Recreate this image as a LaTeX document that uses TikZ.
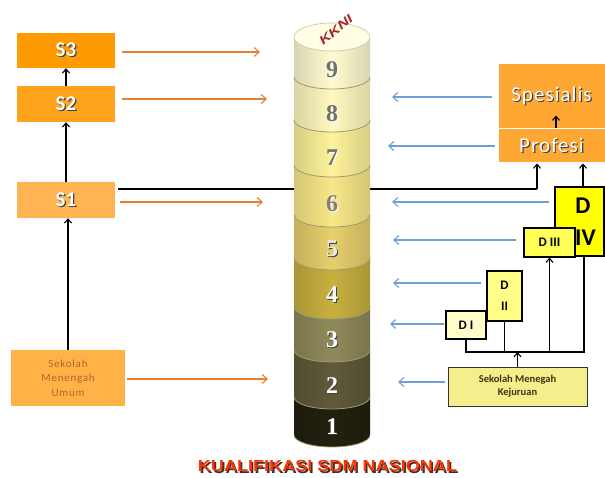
\documentclass[tikz,border=0pt]{standalone}
\usepackage{fontspec}
\setmainfont{Carlito}
\newfontfamily\numfont{Liberation Serif}
\newfontfamily\titlefont{Liberation Sans}
\usetikzlibrary{arrows.meta,calc}
\definecolor{cS3}{HTML}{FF9A00}
\definecolor{cS2}{HTML}{FFA31A}
\definecolor{cS1}{HTML}{FFB454}
\definecolor{cSMU}{HTML}{FFB347}
\definecolor{cSP}{HTML}{FFA733}
\definecolor{smutext}{HTML}{B0652A}
\definecolor{orangearr}{HTML}{ED7D31}
\definecolor{bluearr}{HTML}{6F9FD8}
\definecolor{cD4}{HTML}{FFFF00}
\definecolor{cD3}{HTML}{FFFF55}
\definecolor{cD2}{HTML}{FFFF88}
\definecolor{cD1}{HTML}{FFFFCC}
\definecolor{cSMK}{HTML}{F4EE8C}
\definecolor{smktext}{HTML}{3C3410}
\definecolor{shd}{HTML}{404040}
\definecolor{ctop}{HTML}{FFFDE4}
\definecolor{c9}{HTML}{FFFBD0}
\definecolor{c8}{HTML}{FFF9C0}
\definecolor{c7}{HTML}{FEF29A}
\definecolor{c6}{HTML}{F9E888}
\definecolor{c5}{HTML}{E8CF6C}
\definecolor{c4}{HTML}{C8B040}
\definecolor{c3}{HTML}{8F8A5A}
\definecolor{c2}{HTML}{5F5A3A}
\definecolor{c1}{HTML}{22200F}
\definecolor{segline}{HTML}{A09870}
\definecolor{kkni}{HTML}{A8262C}
\definecolor{titlered}{HTML}{FF3300}
\definecolor{numgray}{HTML}{707070}
\newcommand\shadowed[2]{\rlap{\kern1.2pt\raisebox{-1.2pt}{\textcolor{#2}{#1}}}#1}
\begin{document}
\begin{tikzpicture}[x=1pt,y=-1pt,
  sbox/.style={inner sep=0pt, text=white, font=\bfseries\fontsize{21}{21}\selectfont},
  dbox/.style={draw=black, line width=1.2pt, inner sep=0pt, font=\bfseries\fontsize{13}{21}\selectfont, align=center},
  orarrow/.style={draw=orangearr, line width=1.1pt, -{Straight Barb[length=5pt,width=9pt]}},
  blarrow/.style={draw=bluearr, line width=1.1pt, -{Straight Barb[length=5pt,width=9pt]}},
  blkarrow/.style={draw=black, line width=1.1pt, -{Straight Barb[length=4pt,width=7pt]}},
  blkline/.style={draw=black, line width=1.1pt},
  numtxt/.style={font=\numfont\bfseries\fontsize{24}{24}\selectfont}
]
\useasboundingbox (0,0) rectangle (605,478);
\fill[white] (0,0) rectangle (605,478);

% ---------- left boxes ----------
\node[sbox, fill=cS3, minimum width=98pt, minimum height=35pt] (S3) at (66,50.5) {\shadowed{S3}{shd}};
\node[sbox, fill=cS2, minimum width=98pt, minimum height=36pt] (S2) at (66,104) {\shadowed{S2}{shd}};
\node[sbox, fill=cS1, minimum width=98pt, minimum height=36pt] (S1) at (66,200) {\shadowed{S1}{shd}};
\node[inner sep=0pt, fill=cSMU, minimum width=114pt, minimum height=56pt, align=center, text=smutext,
  font=\addfontfeatures{LetterSpace=7}\fontsize{11}{14.5}\selectfont] (SMU) at (68,378) {Sekolah\\Menengah\\Umum};

\draw[blkarrow] (S2.north) -- (S3.south);
\draw[blkarrow] (S1.north) -- (S2.south);
\draw[blkarrow] (SMU.north) -- (SMU.north |- S1.south);

% ---------- right boxes ----------
\node[inner sep=0pt, fill=cSP, draw=white, line width=1pt, minimum width=107pt, minimum height=65pt, text=white,
  font=\addfontfeatures{LetterSpace=5}\fontsize{21}{21}\selectfont] (Spec) at (551.5,96.5) {\shadowed{Spesialis}{shd}};
\node[inner sep=0pt, fill=cSP, draw=white, line width=1pt, minimum width=107pt, minimum height=34pt, text=white,
  font=\addfontfeatures{LetterSpace=5}\fontsize{21}{21}\selectfont] (Prof) at (551.5,146) {\shadowed{Profesi}{shd}};
\draw[blkarrow] ([xshift=4.5pt]Prof.north) -- ++(0,-13);

\node[dbox, fill=cD4, minimum width=49pt, minimum height=69pt, font=\bfseries\fontsize{24}{32}\selectfont] (DIV) at (579.5,221.5) {\hspace*{7pt}D\\\hspace*{12pt}IV};
\node[dbox, fill=cD3, minimum width=51pt, minimum height=29pt] (DIII) at (549.5,242.5) {D III};
\node[dbox, fill=cD2, minimum width=35pt, minimum height=50pt] (DII) at (504.5,296) {D\\II};
\node[dbox, fill=cD1, minimum width=40pt, minimum height=28pt] (DI) at (466,325) {D I};
\node[draw=black!80, line width=1pt, fill=cSMK, inner sep=0pt, minimum width=139pt, minimum height=39pt, align=center,
  text=smktext, font=\bfseries\fontsize{10.5}{13}\selectfont] (SMK) at (517.5,386.5) {Sekolah Menegah\\Kejuruan};

\coordinate (bus) at (0,352);
\draw[blkline] (DI.south) -- (DI.south |- bus) -- ([xshift=4.5pt]DIV.south |- bus) -- ([xshift=4.5pt]DIV.south);
\draw[blkline] (DII.south) -- (DII.south |- bus);
\draw[blkarrow] (DIII.south |- bus) -- (DIII.south);
\draw[blkarrow] (SMK.north) -- (SMK.north |- bus);
\draw[blkarrow] ([xshift=3.5pt]DIV.north) -- ([xshift=3.5pt]DIV.north |- Prof.south);

% ---------- long line from S1 to Profesi (behind the column) ----------
\coordinate (bend) at (537,189);
\draw[blkline] ([xshift=3pt]S1.east |- bend) -- (bend);
\draw[blkarrow] (bend) -- (bend |- Prof.south);

% ---------- column ----------
\foreach \tp/\bt/\cc in {397/435/c1, 350/397/c2, 307/350/c3, 258/307/c4, 215/258/c5, 165/215/c6, 120/165/c7, 77/120/c8, 37/77/c9} {
  \path[left color=\cc!85!black, right color=\cc!85!black, middle color=\cc]
    (294,\tp) -- (294,\bt) .. controls (294,\bt+6.63) and (311,\bt+12) .. (332,\bt+12)
    .. controls (353,\bt+12) and (370,\bt+6.63) .. (370,\bt) -- (370,\tp) -- cycle;
  \draw[segline, line width=0.8pt] (294,\bt) .. controls (294,\bt+6.63) and (311,\bt+12) .. (332,\bt+12)
    .. controls (353,\bt+12) and (370,\bt+6.63) .. (370,\bt);
}
\fill[ctop] (332,37) ellipse [x radius=38, y radius=14];
\draw[segline!60, line width=0.6pt] (332,37) ellipse [x radius=38, y radius=14];
\node[rotate=40, text=kkni, inner sep=0pt, font=\titlefont\bfseries\itshape\fontsize{12}{12}\selectfont] (kk) at (336,30) {\scalebox{1.35}[1]{KKNI}};

\node[numtxt, text=numgray] (n9) at (332,70) {\shadowed{9}{white}};
\node[numtxt, text=numgray] (n8) at (332,114) {\shadowed{8}{white}};
\node[numtxt, text=numgray] (n7) at (332,158) {\shadowed{7}{white}};
\node[numtxt, text=gray] (n6) at (332,204) {\shadowed{6}{white}};
\node[numtxt, text=white!92!black] (n5) at (332,249) {\shadowed{5}{shd}};
\node[numtxt, text=white] (n4) at (332,295) {\shadowed{4}{shd}};
\node[numtxt, text=white] (n3) at (332,340) {\shadowed{3}{shd}};
\node[numtxt, text=white] (n2) at (332,386) {\shadowed{2}{shd}};
\node[numtxt, text=white] (n1) at (332,427) {\shadowed{1}{shd}};

% ---------- orange arrows ----------
\coordinate (o9) at (260,52);
\coordinate (o8) at (267,99);
\coordinate (o6) at (263,202);
\coordinate (o2) at (268,379);
\draw[orarrow] ($(S3.east |- o9)+(7,0)$) -- (o9);
\draw[orarrow] ($(S2.east |- o8)+(7,0)$) -- (o8);
\draw[orarrow] ($(S1.east |- o6)+(5,0)$) -- (o6);
\draw[orarrow] ($(SMU.east |- o2)+(2,0)$) -- (o2);

% ---------- blue arrows ----------
\coordinate (b9) at (392,97);
\coordinate (b8) at (388,146);
\coordinate (b7) at (392,202);
\coordinate (b6) at (393,240);
\coordinate (b5) at (393,283);
\coordinate (b4) at (390,324);
\coordinate (b3) at (398,382);
\draw[blarrow] ($(Spec.west |- b9)+(-6,0)$) -- (b9);
\draw[blarrow] ($(Prof.west |- b8)+(-3,0)$) -- (b8);
\draw[blarrow] ($(DIV.west |- b7)+(-5,0)$) -- (b7);
\draw[blarrow] ($(DIII.west |- b6)+(-7,0)$) -- (b6);
\draw[blarrow] ($(DII.west |- b5)+(-5,0)$) -- (b5);
\draw[blarrow] ($(DI.west |- b4)+(-1,0)$) -- (b4);
\draw[blarrow] ($(SMK.west |- b3)+(-3,0)$) -- (b3);

% ---------- title ----------
\node[inner sep=0pt, text=titlered, font=\titlefont\bfseries\fontsize{16}{16}\selectfont] (title) at (327.5,467)
  {\scalebox{1.13}[1]{\rlap{\kern1.4pt\raisebox{-1.4pt}{\textcolor{black!80}{KUALIFIKASI SDM NASIONAL}}}KUALIFIKASI SDM NASIONAL}};
\end{tikzpicture}
\end{document}
